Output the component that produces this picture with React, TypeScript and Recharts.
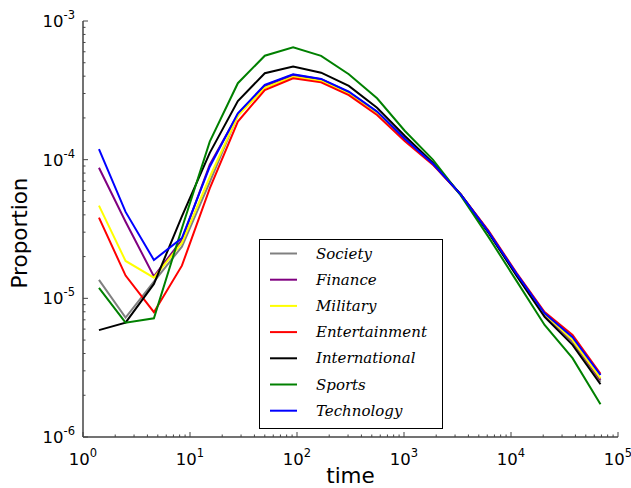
import React from 'react';
import { LineChart, Line, XAxis, YAxis, Legend } from 'recharts';

// Sampled times (log-spaced bins)
const times = [1.41, 2.5, 4.6, 8.4, 15.3, 28, 50, 92, 168, 305, 560, 1020, 1860, 3400, 6200, 11300, 20600, 37600, 68600];

const society = [1.36e-5, 7.26e-6, 1.32e-5, 2.36e-5, 6.9e-5, 2.1e-4, 3.4e-4, 4.05e-4, 3.78e-4, 3.05e-4, 2.2e-4, 1.4e-4, 9.3e-5, 5.6e-5, 3.0e-5, 1.48e-5, 7.6e-6, 4.85e-6, 2.5e-6];
const finance = [8.75e-5, 3.57e-5, 1.44e-5, 2.64e-5, 9.2e-5, 2.12e-4, 3.42e-4, 4.1e-4, 3.8e-4, 3.07e-4, 2.21e-4, 1.41e-4, 9.35e-5, 5.6e-5, 3.0e-5, 1.48e-5, 7.65e-6, 4.95e-6, 2.58e-6];
const military = [4.66e-5, 1.86e-5, 1.41e-5, 2.51e-5, 7.5e-5, 2.07e-4, 3.29e-4, 3.95e-4, 3.69e-4, 3.0e-4, 2.17e-4, 1.39e-4, 9.3e-5, 5.6e-5, 3.0e-5, 1.49e-5, 7.7e-6, 5.0e-6, 2.65e-6];
const entertainment = [3.82e-5, 1.46e-5, 7.94e-6, 1.72e-5, 6.2e-5, 1.88e-4, 3.18e-4, 3.86e-4, 3.61e-4, 2.92e-4, 2.1e-4, 1.36e-4, 9.2e-5, 5.6e-5, 3.05e-5, 1.52e-5, 7.97e-6, 5.45e-6, 2.85e-6];
const international = [5.9e-6, 6.68e-6, 1.27e-5, 3.9e-5, 1.12e-4, 2.65e-4, 4.2e-4, 4.69e-4, 4.24e-4, 3.4e-4, 2.37e-4, 1.48e-4, 9.5e-5, 5.6e-5, 2.95e-5, 1.45e-5, 7.35e-6, 4.62e-6, 2.4e-6];
const sports = [1.19e-5, 6.68e-6, 7.18e-6, 3.2e-5, 1.35e-4, 3.56e-4, 5.62e-4, 6.45e-4, 5.6e-4, 4.13e-4, 2.77e-4, 1.61e-4, 1.0e-4, 5.5e-5, 2.75e-5, 1.33e-5, 6.43e-6, 3.7e-6, 1.72e-6];
const technology = [1.19e-4, 4.2e-5, 1.89e-5, 2.72e-5, 8.9e-5, 2.16e-4, 3.46e-4, 4.13e-4, 3.82e-4, 3.09e-4, 2.22e-4, 1.41e-4, 9.35e-5, 5.6e-5, 3.0e-5, 1.5e-5, 7.81e-6, 5.25e-6, 2.8e-6];

const seriesNames = ['Society', 'Finance', 'Military', 'Entertainment', 'International', 'Sports', 'Technology'];
const seriesColors = ['#808080', '#800080', '#ffff00', '#ff0000', '#000000', '#008000', '#0000ff'];
const seriesValues = [society, finance, military, entertainment, international, sports, technology];

const xDomain = [1, 1e5];
const yDomain = [1e-6, 1e-3];

// Decade ticks plus 2..9 minor ticks for each log axis
function logTicks(lo: number, hi: number) {
  const out: number[] = [];
  const a = Math.round(Math.log10(lo));
  const b = Math.round(Math.log10(hi));
  for (let k = a; k <= b; k++) {
    const base = Math.pow(10, k);
    out.push(base);
    if (k < b) for (let m = 2; m <= 9; m++) out.push(m * base);
  }
  return out;
}
const xTicks = logTicks(xDomain[0], xDomain[1]);
const yTicks = logTicks(yDomain[0], yDomain[1]);

const isMajor = (v: number) => {
  const l = Math.log10(v);
  return Math.abs(l - Math.round(l)) < 1e-6;
};

const data = times.map((t, i) => {
  const row: Record<string, number> = { t };
  seriesNames.forEach((n, j) => {
    row[n] = seriesValues[j][i];
  });
  return row;
});

const AXIS = '#444';
const MAJOR = 5;
const MINOR = 2.5;
const tickFont = 'DejaVu Sans, sans-serif';

function Pow10({ x, y, exp, anchor }: { x: number; y: number; exp: number; anchor: string }) {
  return (
    <text x={x} y={y} textAnchor={anchor} fontFamily={tickFont} fontSize={16.5} fill="#000">
      10
      <tspan dy={-8} fontSize={11.5}>{exp}</tspan>
    </text>
  );
}

function BottomTick(props: any) {
  const { x, y, payload } = props;
  const v = payload.value;
  const major = isMajor(v);
  return (
    <g>
      <line x1={x} x2={x} y1={y} y2={y - (major ? MAJOR : MINOR)} stroke={AXIS} strokeWidth={1} />
      {major && <Pow10 x={x} y={y + 28} exp={Math.round(Math.log10(v))} anchor="middle" />}
    </g>
  );
}

function TopTick(props: any) {
  const { x, y, payload } = props;
  const major = isMajor(payload.value);
  return <line x1={x} x2={x} y1={y} y2={y + (major ? MAJOR : MINOR)} stroke={AXIS} strokeWidth={1} />;
}

function LeftTick(props: any) {
  const { x, y, payload } = props;
  const v = payload.value;
  const major = isMajor(v);
  return (
    <g>
      <line x1={x} x2={x + (major ? MAJOR : MINOR)} y1={y} y2={y} stroke={AXIS} strokeWidth={1} />
      {major && <Pow10 x={x - 8} y={y + 6} exp={Math.round(Math.log10(v))} anchor="end" />}
    </g>
  );
}

function RightTick(props: any) {
  const { x, y, payload } = props;
  const major = isMajor(payload.value);
  return <line x1={x} x2={x - (major ? MAJOR : MINOR)} y1={y} y2={y} stroke={AXIS} strokeWidth={1} />;
}

function LegendBox() {
  const w = 184;
  const h = 190;
  return (
    <svg width={w} height={h} style={{ display: 'block' }}>
      <rect x={0.5} y={0.5} width={w - 1} height={h - 1} fill="#fff" stroke="#000" strokeWidth={1} />
      {seriesNames.map((n, i) => {
        const cy = 14.5 + i * 26.2;
        return (
          <g key={n}>
            <line x1={11} x2={38} y1={cy} y2={cy} stroke={seriesColors[i]} strokeWidth={2} />
            <text x={57} y={cy + 5} fontFamily="DejaVu Serif, serif" fontStyle="italic" fontSize={15} fill="#000">
              {n}
            </text>
          </g>
        );
      })}
    </svg>
  );
}

export default function App() {
  return (
    <div style={{ position: 'absolute', left: 0, top: 0, background: '#fff' }}>
      <LineChart width={631} height={488} data={data} margin={{ top: 21, right: 13, bottom: 0, left: 0 }}>
        <XAxis
          dataKey="t"
          type="number"
          scale="log"
          domain={xDomain}
          allowDataOverflow
          ticks={xTicks}
          interval={0}
          tickSize={0}
          tickMargin={0}
          tickLine={false}
          tick={<BottomTick />}
          height={51}
          axisLine={{ stroke: AXIS, strokeWidth: 1.5 }}
          label={{
            content: (p: any) => {
              const vb = p.viewBox;
              return (
                <text x={vb.x + vb.width / 2} y={vb.y + 46} textAnchor="middle" fontFamily={tickFont} fontSize={21.5} fill="#000">
                  time
                </text>
              );
            },
          }}
        />
        <XAxis
          xAxisId="top"
          orientation="top"
          dataKey="t"
          type="number"
          scale="log"
          domain={xDomain}
          allowDataOverflow
          ticks={xTicks}
          interval={0}
          tickSize={0}
          tickMargin={0}
          tickLine={false}
          tick={<TopTick />}
          height={0}
          axisLine={{ stroke: AXIS, strokeWidth: 1.5 }}
        />
        <YAxis
          type="number"
          scale="log"
          domain={yDomain}
          allowDataOverflow
          ticks={yTicks}
          interval={0}
          tickSize={0}
          tickMargin={0}
          tickLine={false}
          tick={<LeftTick />}
          width={83}
          axisLine={{ stroke: AXIS, strokeWidth: 1.5 }}
          label={{
            content: (p: any) => {
              const vb = p.viewBox;
              const cy = vb.y + vb.height / 2 + 4;
              return (
                <text x={27} y={cy} transform={`rotate(-90, 27, ${cy})`} textAnchor="middle" fontFamily={tickFont} fontSize={21.5} fill="#000">
                  Proportion
                </text>
              );
            },
          }}
        />
        <YAxis
          yAxisId="right"
          orientation="right"
          type="number"
          scale="log"
          domain={yDomain}
          allowDataOverflow
          ticks={yTicks}
          interval={0}
          tickSize={0}
          tickMargin={0}
          tickLine={false}
          tick={<RightTick />}
          width={0}
          axisLine={{ stroke: AXIS, strokeWidth: 1.5 }}
        />
        {seriesNames.map((n, i) => (
          <Line
            key={n}
            type="linear"
            dataKey={n}
            stroke={seriesColors[i]}
            strokeWidth={2}
            dot={false}
            isAnimationActive={false}
          />
        ))}
        <Legend
          layout="vertical"
          align="center"
          verticalAlign="middle"
          content={() => <LegendBox />}
          wrapperStyle={{ left: 259, top: 239, width: 184, height: 190 }}
        />
      </LineChart>
    </div>
  );
}
